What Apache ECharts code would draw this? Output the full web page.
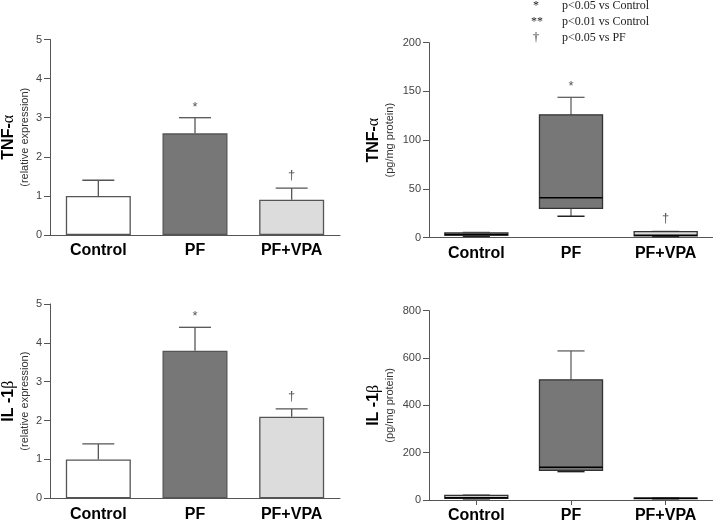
<!DOCTYPE html>
<html>
<head>
<meta charset="utf-8">
<script src="https://cdn.jsdelivr.net/npm/echarts@6/dist/echarts.min.js"></script>
<style>
  html, body { margin: 0; padding: 0; background: #fff; }
  #chart { width: 713px; height: 524px; }
</style>
</head>
<body>
<div id="chart"></div>
<script>
// groups on every x axis
const groups = ['Control', 'PF', 'PF+VPA'];

// TNF-a relative expression (mean, SEM)
const tnfRelMean = [1.0, 2.6, 0.9];
const tnfRelErr = [0.4, 0.4, 0.3];
const tnfRelSig = ['', '*', '†'];

// IL-1b relative expression (mean, SEM)
const il1RelMean = [1.0, 3.8, 2.1];
const il1RelErr = [0.4, 0.6, 0.2];
const il1RelSig = ['', '*', '†'];

// TNF-a protein, pg/mg : min, Q1, median, Q3, max
const tnfProtBox = [
  [1.5, 2.5, 3.5, 5, 5.5],
  [22, 30, 41, 126, 144],
  [1.2, 2, 2.5, 6.2, 6.5]
];
const tnfProtSig = ['', '*', '†'];

// IL-1b protein, pg/mg : min, Q1, median, Q3, max
const il1ProtBox = [
  [5, 7, 10, 19, 21],
  [120, 125, 138, 508, 630],
  [5, 6, 7, 8, 9]
];
const il1ProtSig = ['', '', ''];

// legend lines of the figure
const sigKeys = ['*', '**', '†'];
const sigText = ['p<0.05 vs Control', 'p<0.01 vs Control', 'p<0.05 vs PF'];

const barFill = ['#ffffff', '#777777', '#dcdcdc'];
const boxFill = ['#ffffff', '#777777', '#dcdcdc'];

const chart = echarts.init(document.getElementById('chart'));

function yName(main, greek, sub) {
  return '{t|' + main + '}{g|' + greek + '}\n{s|' + sub + '}';
}
const nameRich = {
  t: { fontFamily: 'Liberation Sans', fontSize: 16, fontWeight: 'bold', color: '#000', lineHeight: 18 },
  g: { fontFamily: 'Liberation Serif', fontSize: 16, color: '#000', lineHeight: 18 },
  s: { fontFamily: 'Liberation Sans', fontSize: 11, color: '#333', lineHeight: 14 }
};

function xAxisCfg(grid, ticks) {
  return {
    type: 'category', gridIndex: grid, data: groups,
    axisLine: { lineStyle: { color: '#555', width: 1 } },
    axisTick: { show: ticks, alignWithLabel: true, length: 5, lineStyle: { color: '#555' } },
    axisLabel: { color: '#000', fontFamily: 'Liberation Sans', fontSize: 16, fontWeight: 'bold', margin: 8 }
  };
}
function yAxisCfg(grid, max, interval, name, gap) {
  return {
    type: 'value', gridIndex: grid, min: 0, max: max, interval: interval,
    name: name, nameLocation: 'middle', nameGap: gap, nameRotate: 90,
    nameTextStyle: { rich: nameRich },
    axisLine: { show: true, lineStyle: { color: '#555', width: 1 } },
    axisTick: { show: true, length: 6, lineStyle: { color: '#555' } },
    axisLabel: { color: '#444', fontFamily: 'Liberation Sans', fontSize: 11, margin: 8 },
    splitLine: { show: false }
  };
}

// one-sided error bars with significance marks
function errorSeries(axis, mean, err, sig) {
  return {
    type: 'custom', xAxisIndex: axis, yAxisIndex: axis, z: 5,
    data: mean.map((m, i) => [i, m, m + err[i]]),
    renderItem: function (params, api) {
      const i = api.value(0);
      const p0 = api.coord([i, api.value(1)]);
      const p1 = api.coord([i, api.value(2)]);
      const children = [
        { type: 'line', shape: { x1: p0[0], y1: p0[1], x2: p1[0], y2: p1[1] }, style: { stroke: '#555', lineWidth: 1.3 } },
        { type: 'line', shape: { x1: p1[0] - 16, y1: p1[1], x2: p1[0] + 16, y2: p1[1] }, style: { stroke: '#555', lineWidth: 1.3 } }
      ];
      if (sig[i]) {
        children.push({ type: 'text', style: { x: p1[0], y: p1[1] - (sig[i] === '*' ? 4 : 6), text: sig[i], align: 'center', verticalAlign: 'bottom', fill: '#555', font: '13px "Liberation Sans"' } });
      }
      return { type: 'group', children: children };
    }
  };
}

// box and whisker plots with half-width whisker caps
function boxSeries(axis, boxes, sig) {
  return {
    type: 'custom', xAxisIndex: axis, yAxisIndex: axis,
    data: boxes.map((b, i) => [i].concat(b)),
    renderItem: function (params, api) {
      const i = api.value(0);
      const half = api.size([1, 0])[0] * 0.333;
      const cap = half * 0.43;
      const pMin = api.coord([i, api.value(1)]);
      const pQ1 = api.coord([i, api.value(2)]);
      const pMed = api.coord([i, api.value(3)]);
      const pQ3 = api.coord([i, api.value(4)]);
      const pMax = api.coord([i, api.value(5)]);
      const x = pMed[0];
      const ln = (x1, y1, x2, y2, c, w) => ({ type: 'line', shape: { x1: x1, y1: y1, x2: x2, y2: y2 }, style: { stroke: c, lineWidth: w } });
      const children = [
        ln(x, pQ3[1], x, pMax[1], '#555', 1.2),
        ln(x, pQ1[1], x, pMin[1], '#555', 1.2),
        ln(x - cap, pMax[1], x + cap, pMax[1], '#555', 1.2),
        ln(x - cap, pMin[1], x + cap, pMin[1], '#222', 1.5),
        { type: 'rect', shape: { x: x - half, y: pQ3[1], width: half * 2, height: pQ1[1] - pQ3[1] }, style: { fill: boxFill[i], stroke: '#333', lineWidth: 1.3 } },
        ln(x - half, pMed[1], x + half, pMed[1], '#000', 1.5)
      ];
      if (sig[i]) {
        children.push({ type: 'text', style: { x: x, y: pMax[1] - (sig[i] === '*' ? 4 : 6), text: sig[i], align: 'center', verticalAlign: 'bottom', fill: '#555', font: '13px "Liberation Sans"' } });
      }
      return { type: 'group', children: children };
    }
  };
}

const legendGraphics = [];
sigKeys.forEach((k, i) => {
  legendGraphics.push({ type: 'text', left: 536 - (k === '**' ? 5 : 3), top: i * 15.7, style: { text: k, fill: '#222', font: '12px "Liberation Serif"' } });
  legendGraphics.push({ type: 'text', left: 562, top: i * 15.7, style: { text: sigText[i], fill: '#222', font: '12px "Liberation Serif"' } });
});

const option = {
  animation: false,
  backgroundColor: '#fff',
  grid: [
    { left: 49, top: 39.5, width: 291, height: 195.5 },
    { left: 429, top: 42.7, width: 284, height: 195 },
    { left: 49, top: 304, width: 291, height: 194.3 },
    { left: 429, top: 310.7, width: 284, height: 191.6 }
  ],
  xAxis: [xAxisCfg(0, false), xAxisCfg(1, false), xAxisCfg(2, false), xAxisCfg(3, true)],
  yAxis: [
    yAxisCfg(0, 5, 1, yName('TNF-', 'α', '(relative expression)'), 18),
    yAxisCfg(1, 200, 50, yName('TNF-', 'α', '(pg/mg protein)'), 32),
    yAxisCfg(2, 5, 1, yName('IL -1', 'β', '(relative expression)'), 18),
    yAxisCfg(3, 800, 200, yName('IL -1', 'β', '(pg/mg protein)'), 32)
  ],
  graphic: legendGraphics,
  series: [
    {
      type: 'bar', xAxisIndex: 0, yAxisIndex: 0, barWidth: 65,
      data: tnfRelMean.map((v, i) => ({ value: v, itemStyle: { color: barFill[i] } })),
      itemStyle: { borderColor: '#555', borderWidth: 1.3 }
    },
    errorSeries(0, tnfRelMean, tnfRelErr, tnfRelSig),
    {
      type: 'bar', xAxisIndex: 2, yAxisIndex: 2, barWidth: 65,
      data: il1RelMean.map((v, i) => ({ value: v, itemStyle: { color: barFill[i] } })),
      itemStyle: { borderColor: '#555', borderWidth: 1.3 }
    },
    errorSeries(2, il1RelMean, il1RelErr, il1RelSig),
    boxSeries(1, tnfProtBox, tnfProtSig),
    boxSeries(3, il1ProtBox, il1ProtSig)
  ]
};

chart.setOption(option);
</script>
</body>
</html>
